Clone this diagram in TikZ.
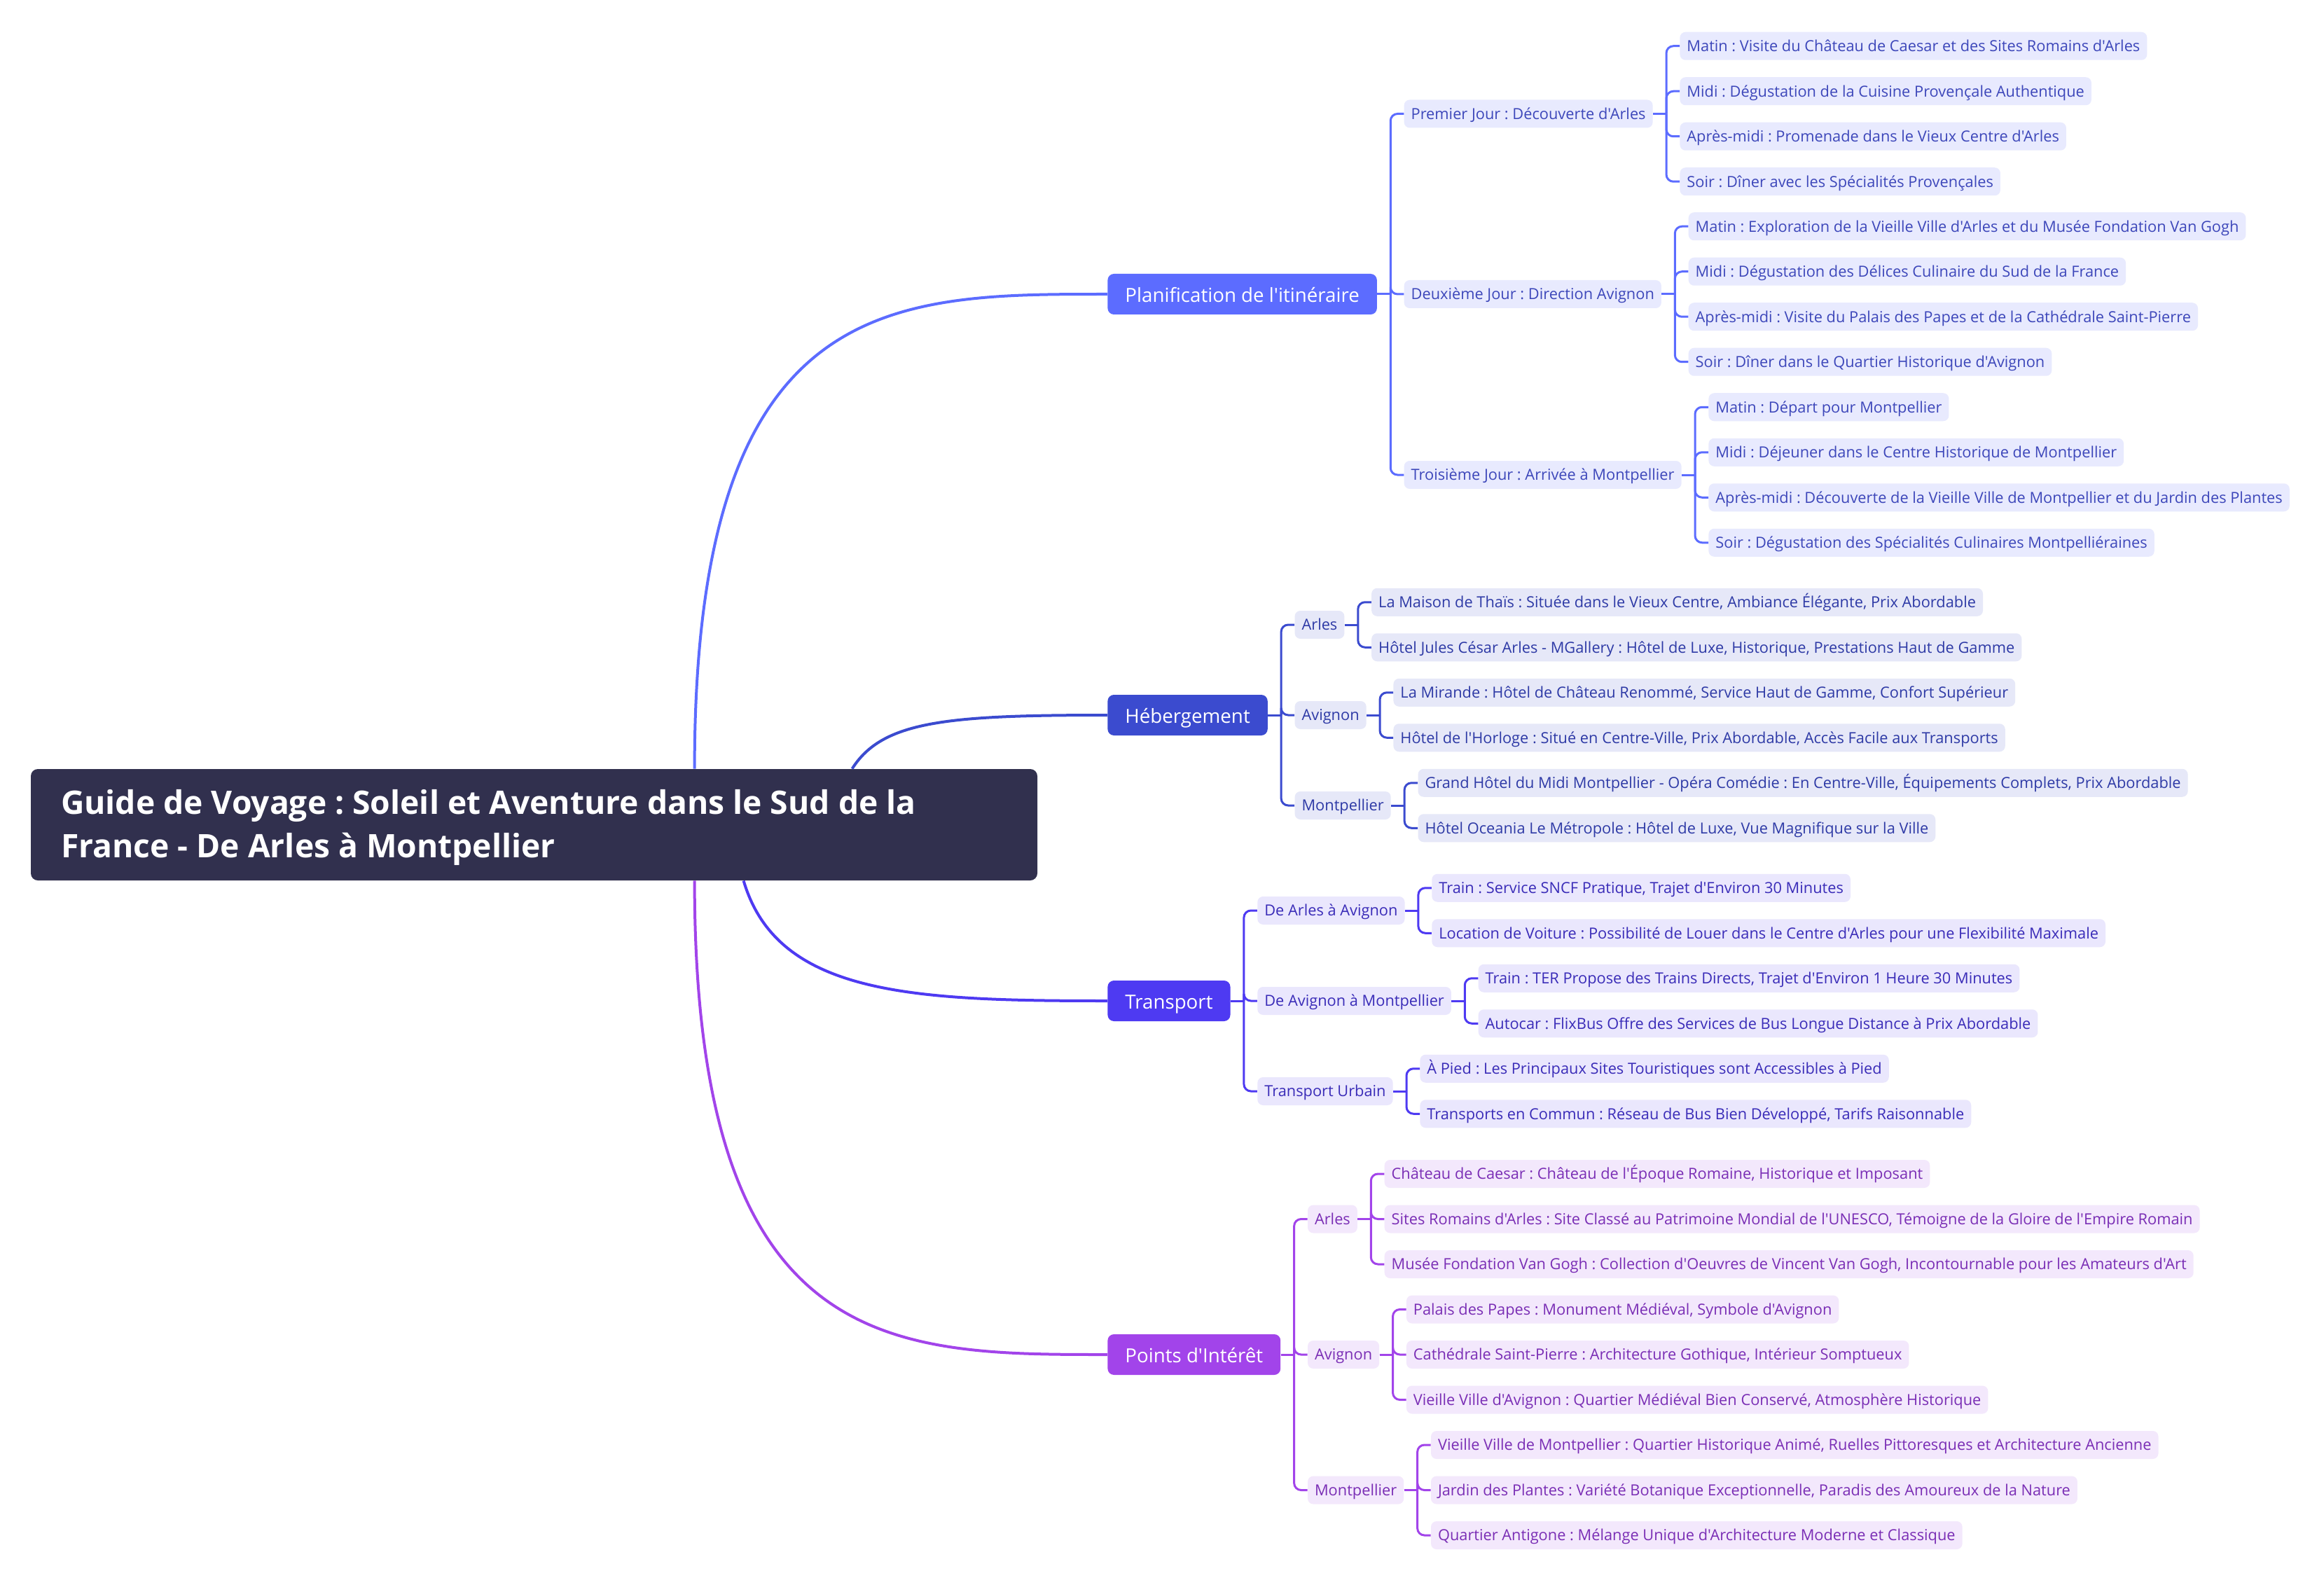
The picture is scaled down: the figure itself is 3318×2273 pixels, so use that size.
\documentclass[tikz,border=0pt]{standalone}
\usepackage{fontspec}
\setmainfont{Open Sans}[Ligatures=TeXOff]
\usetikzlibrary{calc}
\frenchspacing
\definecolor{rootc}{HTML}{31304E}
\definecolor{planc}{HTML}{5C6CFF}
\definecolor{planf}{HTML}{E8EAFE}
\definecolor{plant}{HTML}{3D47BA}
\definecolor{hebc}{HTML}{3B4BCF}
\definecolor{hebf}{HTML}{E6E8F8}
\definecolor{hebt}{HTML}{2E3AA6}
\definecolor{trc}{HTML}{4E3AF2}
\definecolor{trf}{HTML}{EAE7FD}
\definecolor{trt}{HTML}{3A2CB8}
\definecolor{ptc}{HTML}{A244EA}
\definecolor{ptf}{HTML}{F3E8FC}
\definecolor{ptt}{HTML}{7A2EB5}
\tikzset{
  leaf/.style={rounded corners=4pt, inner xsep=5pt, inner ysep=0pt, minimum height=20pt,
    text height=9.5pt, text depth=1.7pt, font=\fontsize{10.9pt}{13pt}\selectfont\frenchspacing},
  plleaf/.style={leaf, fill=planf, text=plant},
  hbleaf/.style={leaf, fill=hebf, text=hebt},
  trleaf/.style={leaf, fill=trf, text=trt},
  ptleaf/.style={leaf, fill=ptf, text=ptt},
  mainbox/.style={rounded corners=4.5pt, inner xsep=12.5pt, inner ysep=0pt, minimum height=29pt,
    text height=13.5pt, text depth=2.3pt, text=white, font=\fontsize{13.85pt}{16pt}\selectfont},
  rootbox/.style={rounded corners=5pt, fill=rootc, minimum width=718.5pt, minimum height=79.5pt, inner sep=0pt},
  roottext/.style={text=white, align=left, inner sep=0pt,
    font=\fontsize{23.1pt}{31pt}\selectfont\bfseries\frenchspacing},
  curve/.style={line width=2pt},
}
\newcommand\kid[6]{%
  \path (#3.east) ++(38,#4) node[#1,anchor=west] (#5) {#6};
  \draw[#2,line width=1.5pt] (#3.east) -- ++(19,0);
  \draw[#2,line width=1.5pt,rounded corners=5pt] ($(#3.east)+(19,0)$) |- (#5.west);
}
\begin{document}
\begin{tikzpicture}[x=0.5pt,y=-0.5pt]
\fill[white] (0,0) rectangle (3318,2273);
\useasboundingbox (0,0) rectangle (3318,2273);

% root
\node[rootbox] (root) at (762.5,1177.5) {};
\node[roottext, anchor=west] (roottxt) at ([xshift=21.5pt,yshift=-2pt]root.west) {Guide de Voyage : Soleil et Aventure dans le Sud de la\\France - De Arles à Montpellier};

% main branches
\node[mainbox, fill=planc, anchor=west] (plan) at (1581,420) {Planification de l'itinéraire};
\node[mainbox, fill=hebc, anchor=west] (heb) at (1581,1021) {Hébergement};
\node[mainbox, fill=trc, anchor=west] (tr) at (1581,1429) {Transport};
\node[mainbox, fill=ptc, anchor=west] (pt) at (1581,1934) {Points d'Intérêt};

% curves root -> main
\draw[curve, planc] ($(root.north west)+(948,0)$) .. controls +(0,-679) and +(-311,0) .. (plan.west);
\draw[curve, hebc] ($(root.north west)+(1173,0)$) .. controls +(43,-68) and +(-231,0) .. (heb.west);
\draw[curve, trc] ($(root.south west)+(1018,0)$) .. controls +(48,163) and +(-281,0) .. (tr.west);
\draw[curve, ptc] ($(root.south west)+(948,0)$) .. controls +(0,676) and +(-311,0) .. (pt.west);

% Planification
\kid{plleaf}{planc}{plan}{-257.5}{p1}{Premier Jour : Découverte d'Arles}
\kid{plleaf}{planc}{plan}{0}{p2}{Deuxième Jour : Direction Avignon}
\kid{plleaf}{planc}{plan}{258}{p3}{Troisième Jour : Arrivée à Montpellier}
\kid{plleaf}{planc}{p1}{-96.75}{p1a}{Matin : Visite du Château de Caesar et des Sites Romains d'Arles}
\kid{plleaf}{planc}{p1}{-32.25}{p1b}{Midi : Dégustation de la Cuisine Provençale Authentique}
\kid{plleaf}{planc}{p1}{32.25}{p1c}{Après-midi : Promenade dans le Vieux Centre d'Arles}
\kid{plleaf}{planc}{p1}{96.75}{p1d}{Soir : Dîner avec les Spécialités Provençales}
\kid{plleaf}{planc}{p2}{-96.75}{p2a}{Matin : Exploration de la Vieille Ville d'Arles et du Musée Fondation Van Gogh}
\kid{plleaf}{planc}{p2}{-32.25}{p2b}{Midi : Dégustation des Délices Culinaire du Sud de la France}
\kid{plleaf}{planc}{p2}{32.25}{p2c}{Après-midi : Visite du Palais des Papes et de la Cathédrale Saint-Pierre}
\kid{plleaf}{planc}{p2}{96.75}{p2d}{Soir : Dîner dans le Quartier Historique d'Avignon}
\kid{plleaf}{planc}{p3}{-96.75}{p3a}{Matin : Départ pour Montpellier}
\kid{plleaf}{planc}{p3}{-32.25}{p3b}{Midi : Déjeuner dans le Centre Historique de Montpellier}
\kid{plleaf}{planc}{p3}{32.25}{p3c}{Après-midi : Découverte de la Vieille Ville de Montpellier et du Jardin des Plantes}
\kid{plleaf}{planc}{p3}{96.75}{p3d}{Soir : Dégustation des Spécialités Culinaires Montpelliéraines}

% Hebergement
\kid{hbleaf}{hebc}{heb}{-129}{h1}{Arles}
\kid{hbleaf}{hebc}{heb}{0}{h2}{Avignon}
\kid{hbleaf}{hebc}{heb}{129}{h3}{Montpellier}
\kid{hbleaf}{hebc}{h1}{-32.25}{h1a}{La Maison de Thaïs : Située dans le Vieux Centre, Ambiance Élégante, Prix Abordable}
\kid{hbleaf}{hebc}{h1}{32.25}{h1b}{Hôtel Jules César Arles - MGallery : Hôtel de Luxe, Historique, Prestations Haut de Gamme}
\kid{hbleaf}{hebc}{h2}{-32.25}{h2a}{La Mirande : Hôtel de Château Renommé, Service Haut de Gamme, Confort Supérieur}
\kid{hbleaf}{hebc}{h2}{32.25}{h2b}{Hôtel de l'Horloge : Situé en Centre-Ville, Prix Abordable, Accès Facile aux Transports}
\kid{hbleaf}{hebc}{h3}{-32.25}{h3a}{Grand Hôtel du Midi Montpellier - Opéra Comédie : En Centre-Ville, Équipements Complets, Prix Abordable}
\kid{hbleaf}{hebc}{h3}{32.25}{h3b}{Hôtel Oceania Le Métropole : Hôtel de Luxe, Vue Magnifique sur la Ville}

% Transport
\kid{trleaf}{trc}{tr}{-129}{t1}{De Arles à Avignon}
\kid{trleaf}{trc}{tr}{0}{t2}{De Avignon à Montpellier}
\kid{trleaf}{trc}{tr}{129}{t3}{Transport Urbain}
\kid{trleaf}{trc}{t1}{-32.25}{t1a}{Train : Service SNCF Pratique, Trajet d'Environ 30 Minutes}
\kid{trleaf}{trc}{t1}{32.25}{t1b}{Location de Voiture : Possibilité de Louer dans le Centre d'Arles pour une Flexibilité Maximale}
\kid{trleaf}{trc}{t2}{-32.25}{t2a}{Train : TER Propose des Trains Directs, Trajet d'Environ 1 Heure 30 Minutes}
\kid{trleaf}{trc}{t2}{32.25}{t2b}{Autocar : FlixBus Offre des Services de Bus Longue Distance à Prix Abordable}
\kid{trleaf}{trc}{t3}{-32.25}{t3a}{À Pied : Les Principaux Sites Touristiques sont Accessibles à Pied}
\kid{trleaf}{trc}{t3}{32.25}{t3b}{Transports en Commun : Réseau de Bus Bien Développé, Tarifs Raisonnable}

% Points d'interet
\kid{ptleaf}{ptc}{pt}{-193.5}{q1}{Arles}
\kid{ptleaf}{ptc}{pt}{0}{q2}{Avignon}
\kid{ptleaf}{ptc}{pt}{193.5}{q3}{Montpellier}
\kid{ptleaf}{ptc}{q1}{-64.5}{q1a}{Château de Caesar : Château de l'Époque Romaine, Historique et Imposant}
\kid{ptleaf}{ptc}{q1}{0}{q1b}{Sites Romains d'Arles : Site Classé au Patrimoine Mondial de l'UNESCO, Témoigne de la Gloire de l'Empire Romain}
\kid{ptleaf}{ptc}{q1}{64.5}{q1c}{Musée Fondation Van Gogh : Collection d'Oeuvres de Vincent Van Gogh, Incontournable pour les Amateurs d'Art}
\kid{ptleaf}{ptc}{q2}{-64.5}{q2a}{Palais des Papes : Monument Médiéval, Symbole d'Avignon}
\kid{ptleaf}{ptc}{q2}{0}{q2b}{Cathédrale Saint-Pierre : Architecture Gothique, Intérieur Somptueux}
\kid{ptleaf}{ptc}{q2}{64.5}{q2c}{Vieille Ville d'Avignon : Quartier Médiéval Bien Conservé, Atmosphère Historique}
\kid{ptleaf}{ptc}{q3}{-64.5}{q3a}{Vieille Ville de Montpellier : Quartier Historique Animé, Ruelles Pittoresques et Architecture Ancienne}
\kid{ptleaf}{ptc}{q3}{0}{q3b}{Jardin des Plantes : Variété Botanique Exceptionnelle, Paradis des Amoureux de la Nature}
\kid{ptleaf}{ptc}{q3}{64.5}{q3c}{Quartier Antigone : Mélange Unique d'Architecture Moderne et Classique}
\end{tikzpicture}
\end{document}
